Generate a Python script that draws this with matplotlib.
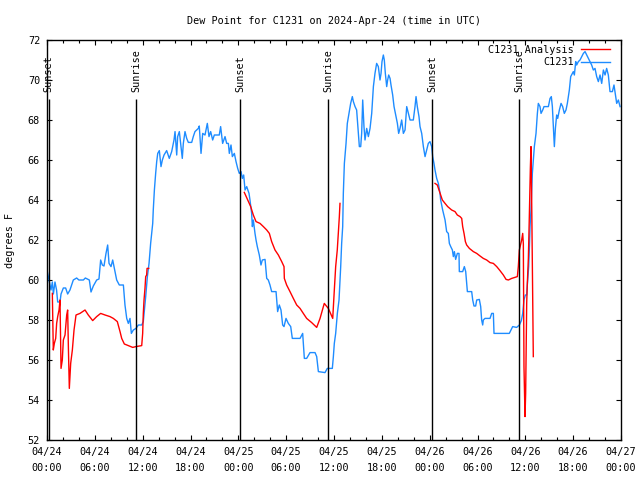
import numpy as np
import pandas as pd
import matplotlib
matplotlib.use('Agg')
import matplotlib.pyplot as plt
import matplotlib.dates as mdates

nan = float('nan')

# hours since 2024-04-24 00:00 UTC, dew point in degrees F
obs_hours = [0.0, 0.25, 0.5, 0.67, 0.8, 1.0, 1.2, 1.34, 1.63, 1.76, 2.05, 2.34, 2.59, 2.88,
             3.09, 3.3, 3.72, 4.0, 4.56, 4.81, 5.31, 5.52, 5.81, 6.23, 6.52, 6.73, 6.94, 7.15,
             7.4, 7.61, 7.78, 8.03, 8.24, 8.53, 8.74, 9.07, 9.58, 9.78, 10.0, 10.2, 10.41, 10.58,
             10.83, 11.16, 11.46, 11.88, 12.08, 12.38, 12.59, 12.8, 13.0, 13.26, 13.33, 13.47,
             13.63, 13.76, 13.89, 14.09, 14.3, 14.47, 14.68, 15.01, 15.34, 15.64, 15.93, 16.06,
             16.27, 16.39, 16.6, 16.81, 16.97, 17.1, 17.31, 17.52, 17.73, 18.15, 18.35, 18.56,
             18.98, 19.1, 19.32, 19.53, 19.82, 20.11, 20.32, 20.53, 20.78, 20.99, 21.2, 21.61,
             21.78, 22.03, 22.33, 22.54, 22.75, 22.87, 23.08, 23.25, 23.5, 23.71, 23.92, 24.12,
             24.34, 24.5, 24.67, 24.84, 25.05, 25.34, 25.46, 25.67, 25.76, 25.88, 26.09, 26.22,
             26.38, 26.63, 26.84, 27.01, 27.35, 27.56, 27.76, 27.97, 28.18, 28.73, 28.93, 29.14,
             29.35, 29.56, 29.73, 29.98, 30.27, 30.57, 30.77, 31.74, 32.07, 32.28, 32.57, 32.99,
             33.62, 33.83, 34.04, 34.87, 35.16, 35.79, 35.92, 36.04, 36.21, 36.42, 36.63, 36.84,
             36.96, 37.09, 37.17, 37.3, 37.51, 37.67, 37.88, 38.09, 38.3, 38.43, 38.64, 38.84,
             39.05, 39.18, 39.35, 39.47, 39.6, 39.76, 39.89, 40.1, 40.31, 40.52, 40.73, 40.94,
             41.14, 41.35, 41.56, 41.77, 41.9, 42.02, 42.19, 42.31, 42.44, 42.61, 42.73, 42.86,
             43.03, 43.15, 43.36, 43.53, 43.78, 43.95, 44.11, 44.28, 44.49, 44.7, 44.91, 45.12,
             45.33, 45.54, 45.95, 46.16, 46.29, 46.45, 46.66, 46.79, 47.0, 47.21, 47.42, 47.63,
             47.83, 48.04, 48.25, 48.38, 48.54, 48.67, 48.88, 49.09, 49.3, 49.38, 49.63, 49.93,
             50.13, 50.34, 50.47, 50.64, 50.85, 50.97, 51.1, 51.26, 51.47, 51.68, 51.72, 52.14,
             52.35, 52.52, 52.73, 53.27, 53.4, 53.56, 53.77, 53.9, 54.23, 54.4, 54.52, 54.65,
             54.73, 54.94, 55.57, 55.78, 55.99, 56.07, 57.99, 58.41, 58.91, 59.25, 59.5, 59.67,
             59.83, 60.0, 60.17, 60.25, 60.42, 60.5, 60.59, 60.71, 60.88, 61.13, 61.34, 61.51,
             61.63, 61.84, 61.97, 62.18, 62.34, 62.89, 63.1, 63.26, 63.39, 63.51, 63.64, 63.77,
             63.93, 64.06, 64.27, 64.48, 64.68, 64.89, 65.1, 65.27, 65.52, 65.69, 65.9, 66.02,
             66.15, 66.32, 66.44, 66.65, 66.86, 67.07, 67.28, 67.49, 67.7, 67.91, 68.11, 68.32,
             68.53, 68.74, 68.95, 69.16, 69.37, 69.58, 69.79, 70.0, 70.2, 70.41, 70.62, 70.92,
             71.12, 71.33, 71.46, 71.67, 71.88]
obs_dewp = [60.5, 60.0, 59.5, 59.9, 59.3, 59.9, 59.5, 58.9, 58.9, 59.3, 59.6, 59.6, 59.3, 59.5,
            59.75, 60.0, 60.1, 60.0, 60.0, 60.1, 60.0, 59.4, 59.7, 60.0, 60.05, 61.0, 60.75, 60.7,
            61.33, 61.75, 60.83, 60.67, 61.0, 60.42, 60.0, 59.75, 59.75, 58.75, 58.08, 57.83, 58.08, 57.33,
            57.5, 57.58, 57.75, 57.75, 57.92, 59.17, 60.17, 60.83, 61.83, 62.83, 63.5, 64.5,
            65.33, 65.92, 66.33, 66.47, 65.67, 66.0, 66.25, 66.47, 66.08, 66.42, 67.0, 67.42,
            66.25, 67.17, 67.42, 66.67, 66.08, 66.83, 67.42, 67.08, 66.88, 66.88, 67.17, 67.42,
            67.58, 67.7, 66.33, 67.33, 67.25, 67.83, 67.17, 67.42, 67.0, 67.25, 67.25, 67.25,
            67.67, 66.83, 67.17, 66.83, 66.83, 66.33, 66.75, 66.17, 66.33, 65.92, 65.58, 65.33,
            65.42, 65.08, 65.25, 64.5, 64.67, 64.33, 64.0, 63.33, 62.67, 63.0, 62.33, 62.0,
            61.67, 61.25, 60.75, 61.0, 61.03, 60.08, 60.0, 59.75, 59.42, 59.42, 58.42, 58.75,
            58.5, 57.75, 57.67, 58.08, 57.83, 57.67, 57.08, 57.08, 57.33, 56.08, 56.08, 56.37,
            56.37, 56.17, 55.42, 55.37, 55.58, 55.58, 56.17, 56.83, 57.33, 58.33, 59.0, 60.67,
            61.83, 62.67, 64.33, 65.83, 66.83, 67.83, 68.33, 68.83, 69.17, 68.92, 68.67, 68.5,
            67.33, 66.67, 66.67, 67.33, 69.0, 67.67, 67.0, 67.58, 67.17, 67.58, 68.33, 69.67,
            70.33, 70.83, 70.67, 70.0, 70.33, 70.92, 71.25, 71.0, 70.33, 69.67, 70.0, 70.25,
            70.08, 69.75, 69.25, 68.67, 68.17, 67.83, 67.33, 67.58, 68.0, 67.33, 67.5, 68.67,
            68.33, 68.0, 68.0, 68.67, 69.17, 68.67, 68.17, 67.67, 67.33, 66.67, 66.17, 66.5,
            66.83, 66.92, 66.67, 66.17, 65.83, 65.5, 65.08, 64.83, 64.33, 64.0, 63.5, 63.0,
            62.42, 62.33, 61.83, 61.67, 61.5, 61.17, 61.42, 61.03, 61.33, 61.33, 60.42, 60.42,
            60.67, 60.42, 59.42, 59.42, 59.0, 58.7, 58.7, 59.0, 59.03, 58.67, 58.0, 57.75,
            58.0, 58.08, 58.08, 58.33, 58.33, 57.33, 57.33, 57.67, 57.63, 57.75, 57.97, 58.33,
            59.0, 59.25, 59.25, 59.75, 60.67, 61.5, 62.67, 63.5, 65.33, 66.67, 67.33, 68.33,
            68.83, 68.67, 68.33, 68.5, 68.67, 68.67, 69.08, 69.17, 68.67, 67.67, 66.67, 67.58,
            68.25, 68.08, 68.5, 68.83, 68.67, 68.33, 68.5, 68.83, 69.5, 70.17, 70.33, 70.42,
            70.25, 70.92, 70.75, 70.92, 71.0, 71.17, 71.33, 71.42, 71.25, 71.08, 70.92, 70.75,
            70.5, 70.58, 70.17, 69.92, 70.25, 69.83, 70.5, 70.25, 70.58, 70.25, 69.42, 69.42,
            69.75, 69.17, 68.83, 69.0, 68.67]

# analysis series; nan marks a gap in the line
ana_hours = [0.67, 0.79, 0.92, 1.09, 1.21, 1.34, 1.51, 1.63, 1.76, 1.92, 2.05, 2.26, 2.47, 2.59,
             2.68, 2.8, 2.97, 3.18, 3.39, 3.64, 4.14, 4.77, 5.18, 5.73, 6.23, 6.73, 7.28, 7.9,
             8.32, 8.82, 9.16, 9.37, 9.7, 10.2, 10.75, 11.16, 11.88, 12.0, 12.08, 12.17, 12.29,
             12.38, 12.5, 12.55, 12.76, 12.8,
             24.75, 25.55, 25.88, 26.22, 26.72, 27.14, 27.56, 27.89, 28.18, 28.6, 29.02, 29.44,
             29.73, 29.77, 30.06, 30.48, 30.9, 31.32, 31.74, 32.15, 32.57, 33.2, 33.83, 34.25,
             34.78, 35.29, 35.84, 36.04, 36.21, 36.41, 36.54, 36.67, 36.75, 36.8,
             48.67, 48.96, 49.17, 49.38, 49.59, 49.93, 50.26, 50.76, 51.18, 51.47, 51.81, 52.02,
             52.14, 52.31, 52.48, 52.64, 52.98, 53.48, 53.9, 54.32, 54.73, 55.15, 55.57, 55.99,
             56.41, 56.82, 57.24, 57.58, 57.87, 58.29, 59.0, 59.12, 59.25, 59.54, 59.67, 59.75,
             59.83, 59.96, 60.04, 60.17, 60.25, 60.38, 60.5, 60.63, 60.71, 60.8, 61.0]
ana_dewp = [59.33, 56.5, 56.83, 57.08, 57.83, 58.17, 58.5, 59.0, 55.58, 56.0, 57.0, 57.25, 58.25, 58.5,
            56.67, 54.58, 55.83, 56.5, 57.5, 58.25, 58.33, 58.5, 58.25, 57.97, 58.17, 58.33, 58.25, 58.17,
            58.08, 57.92, 57.42, 57.08, 56.8, 56.72, 56.63, 56.67, 56.72, 57.33, 58.33, 59.0, 59.58,
            60.17, 60.25, 60.58, 60.58, nan,
            64.38, 63.67, 63.25, 62.92, 62.83, 62.67, 62.5, 62.33, 61.92, 61.5, 61.25, 60.92,
            60.67, 60.08, 59.75, 59.42, 59.08, 58.75, 58.58, 58.33, 58.08, 57.87, 57.63, 58.08,
            58.83, 58.58, 58.08, 59.5, 60.67, 61.5, 62.33, 63.17, 63.83, nan,
            64.83, 64.75, 64.5, 64.25, 64.0, 63.83, 63.67, 63.5, 63.42, 63.25, 63.17, 63.08,
            62.67, 62.33, 61.92, 61.75, 61.58, 61.42, 61.33, 61.2, 61.08, 61.0, 60.87, 60.83,
            60.67, 60.47, 60.25, 60.03, 60.0, 60.08, 60.17, 60.67, 61.5, 62.0, 62.33, 61.8,
            55.67, 53.17, 54.33, 58.83, 59.83, 61.08, 63.17, 65.58, 66.67, 63.83, 56.17]

sun_hours = [0.2, 11.2, 24.25, 35.3, 48.3, 59.25]
sun_names = ['Sunset', 'Sunrise', 'Sunset', 'Sunrise', 'Sunset', 'Sunrise']

start = pd.Timestamp('2024-04-24 00:00')
def hours_to_time(h):
    return (start + pd.to_timedelta(np.asarray(h, dtype=float), unit='h')).to_numpy()

blue = '#1e8cff'
red = '#ff0000'

plt.rcParams['font.family'] = ['DejaVu Sans Mono']
plt.rcParams['font.size'] = 7.3

fig = plt.figure(figsize=(6.4, 4.8), dpi=100)
ax = fig.add_axes([47 / 640, 40 / 480, 574 / 640, 400 / 480])

ax.plot(hours_to_time(obs_hours), obs_dewp, color=blue, lw=1.0)
ax.plot(hours_to_time(ana_hours), ana_dewp, color=red, lw=1.0)

sun_t = hours_to_time(sun_hours)
ax.vlines(sun_t, 52, 69.05, color='black', lw=1.0)
for t, name in zip(sun_t, sun_names):
    ax.text(t, 69.4, name, rotation=90, ha='center', va='bottom')

ax.set_xlim(hours_to_time([0])[0], hours_to_time([72])[0])
ax.set_ylim(52, 72)
ax.set_yticks(np.arange(52, 73, 2))
ax.xaxis.set_major_locator(mdates.HourLocator(byhour=[0, 6, 12, 18]))
ax.xaxis.set_minor_locator(mdates.HourLocator(byhour=range(0, 24, 2)))
ax.xaxis.set_major_formatter(mdates.DateFormatter('%m/%d\n%H:%M'))
ax.tick_params(which='both', direction='in', top=True, right=True, width=0.8)
ax.tick_params(which='major', length=3.5, pad=5)
ax.tick_params(which='minor', length=2.5)
for lbl in ax.get_xticklabels():
    lbl.set_linespacing(1.7)
for s in ax.spines.values():
    s.set_linewidth(1.0)

ax.set_title('Dew Point for C1231 on 2024-Apr-24 (time in UTC)', fontsize=7.3, pad=11.5)
ax.set_ylabel('degrees F', labelpad=9)

# key in the top right corner
ax.text(0.918, 0.975, 'C1231 Analysis', transform=ax.transAxes, ha='right', va='center')
ax.text(0.918, 0.945, 'C1231', transform=ax.transAxes, ha='right', va='center')
ax.plot([0.930, 0.981], [0.977, 0.977], color=red, lw=1.0, transform=ax.transAxes)
ax.plot([0.930, 0.981], [0.945, 0.945], color=blue, lw=1.0, transform=ax.transAxes)

fig.savefig('out.png', dpi=100)
